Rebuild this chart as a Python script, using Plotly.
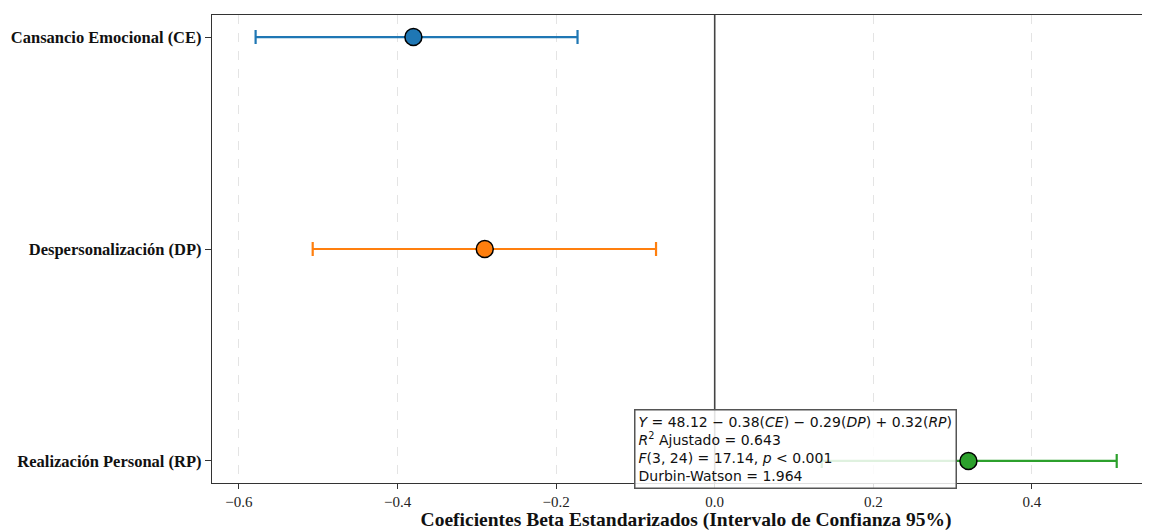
import plotly.graph_objects as go

categories = ["Cansancio Emocional (CE)", "Despersonalización (DP)", "Realización Personal (RP)"]
beta = [-0.38, -0.29, 0.32]
ci_low = [-0.579, -0.507, 0.135]
ci_high = [-0.173, -0.074, 0.507]
colors = ["#1f77b4", "#ff7f0e", "#2ca02c"]
x_ticks = [-0.6, -0.4, -0.2, 0.0, 0.2, 0.4]
x_tick_labels = ["\u22120.6", "\u22120.4", "\u22120.2", "0.0", "0.2", "0.4"]

model_text = ("<i>Y</i> = 48.12 \u2212 0.38(<i>CE</i>) \u2212 0.29(<i>DP</i>) + 0.32(<i>RP</i>)<br>"
              "<i>R</i><sup>2</sup> Ajustado = 0.643<br>"
              "<i>F</i>(3, 24) = 17.14, <i>p</i> &lt; 0.001<br>"
              "Durbin-Watson = 1.964")

fig = go.Figure()
for cat, b, lo, hi, c in zip(categories, beta, ci_low, ci_high, colors):
    fig.add_trace(go.Scatter(
        x=[b], y=[cat], mode="markers",
        marker=dict(size=17, color=c, line=dict(color="black", width=1.5)),
        error_x=dict(type="data", symmetric=False, array=[hi - b], arrayminus=[b - lo],
                     color=c, thickness=2.2, width=7),
        showlegend=False,
    ))

fig.add_vline(x=0, line=dict(color="#444444", width=1.6), layer="above")

fig.add_annotation(
    text=model_text, xref="x", yref="paper", x=-0.102, y=-0.013,
    xanchor="left", yanchor="bottom", align="left", showarrow=False,
    font=dict(family="DejaVu Sans", size=14, color="#111111"),
    bgcolor="rgba(255,255,255,0.85)", bordercolor="#555555", borderwidth=1.5, borderpad=3,
)

# page body has an 8px margin; size the figure so the plot area sits where the reference's does
fig.update_layout(
    width=1152, height=523,
    margin=dict(l=204, r=0, t=7, b=48),
    plot_bgcolor="white", paper_bgcolor="white",
    xaxis=dict(
        automargin=False,
        range=[-0.634, 0.5616], tickvals=x_ticks, ticktext=x_tick_labels,
        showgrid=True, gridcolor="#e4e4e4", griddash="dash", gridwidth=1,
        zeroline=False, showline=True, linecolor="#333333", linewidth=1.3, mirror=True,
        ticks="outside", ticklen=5, tickcolor="#333333",
        tickfont=dict(family="Liberation Serif", size=15, color="#222222"),
        title=dict(text="<b>Coeficientes Beta Estandarizados (Intervalo de Confianza 95%)</b>",
                   font=dict(family="Liberation Serif", size=19.5, color="#111111"), standoff=3),
    ),
    yaxis=dict(
        automargin=False,
        type="category", categoryorder="array", categoryarray=categories,
        range=[2.104, -0.104], showgrid=False, zeroline=False,
        showline=True, linecolor="#333333", linewidth=1.3,
        ticks="outside", ticklen=6, tickcolor="#333333",
        tickfont=dict(family="Liberation Serif", size=16.5, color="#111111"),
        tickvals=categories, ticktext=["<b>%s</b>" % c for c in categories],
    ),
)

fig.write_html("out.html")
